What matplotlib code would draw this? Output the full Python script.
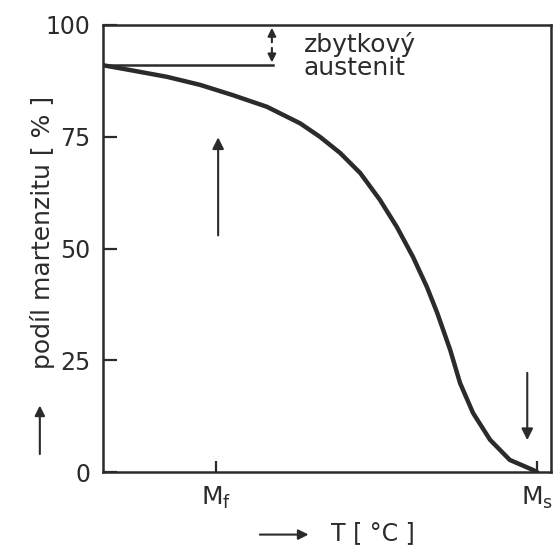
import numpy as np
import matplotlib.pyplot as plt

# podíl martenzitu v závislosti na teplotě
T = [0.0, 0.067, 0.143, 0.217, 0.290, 0.366, 0.440, 0.484, 0.529, 0.574,
     0.618, 0.656, 0.692, 0.723, 0.746, 0.775, 0.797, 0.826, 0.864, 0.908,
     0.960, 0.969]
podil = [91.0, 89.8, 88.4, 86.6, 84.3, 81.7, 78.0, 75.0, 71.4, 66.9,
         60.9, 54.8, 48.1, 41.4, 35.6, 27.3, 19.9, 13.2, 7.2, 2.7,
         0.45, 0.0]

yticks = [0, 25, 50, 75, 100]
xticks = [0.252, 0.969]
xticklabels = ["M$_\\mathrm{f}$", "M$_\\mathrm{s}$"]
zbytek = 91.0

c = "#2b2b2b"
plt.rcParams['font.family'] = 'DejaVu Sans'

fig = plt.figure(figsize=(5.56, 5.46), dpi=100)
ax = fig.add_axes([103/556, 1-472/546, 448/556, 447/546])

ax.plot(T, podil, color=c, lw=3.2, solid_capstyle='round', solid_joinstyle='round')
ax.set_xlim(0, 1)
ax.set_ylim(0, 100)

for s in ax.spines.values():
    s.set_linewidth(1.8)
    s.set_color(c)

ax.set_yticks(yticks)
ax.set_yticklabels([str(v) for v in yticks], fontsize=17, color=c)
ax.set_xticks(xticks)
ax.set_xticklabels(xticklabels, fontsize=18, color=c)
ax.tick_params(axis='y', direction='in', length=10, width=1.6, pad=9, colors=c)
ax.tick_params(axis='x', direction='in', length=8, width=1.6, pad=9, colors=c)

# zbytkový austenit
ax.plot([0, 0.379], [zbytek, zbytek], color=c, lw=1.8)
ax.annotate("", xy=(0.377, 100), xytext=(0.377, 95.5),
            arrowprops=dict(arrowstyle='-|>', color=c, lw=1.5, mutation_scale=12))
ax.annotate("", xy=(0.377, zbytek), xytext=(0.377, 95.5),
            arrowprops=dict(arrowstyle='-|>', color=c, lw=1.5, mutation_scale=12))
ax.text(0.448, 98.5, "zbytkový\naustenit", fontsize=18, color=c,
        va='top', ha='left', linespacing=0.95)

# šipky
ax.annotate("", xy=(0.257, 75.5), xytext=(0.257, 52.3),
            arrowprops=dict(arrowstyle='-|>', color=c, lw=1.5, mutation_scale=17))
ax.annotate("", xy=(0.947, 6.5), xytext=(0.947, 22.8),
            arrowprops=dict(arrowstyle='-|>', color=c, lw=1.5, mutation_scale=17))

# popisky os
ax.text(-0.135, 0.535, "podíl martenzitu [ % ]", transform=ax.transAxes,
        rotation=90, fontsize=18, color=c, ha='center', va='center')
ax.annotate("", xy=(-0.141, 0.155), xytext=(-0.141, 0.034), xycoords='axes fraction',
            arrowprops=dict(arrowstyle='-|>', color=c, lw=1.5, mutation_scale=15),
            annotation_clip=False)
ax.text(0.51, -0.137, "T [ °C ]", transform=ax.transAxes, fontsize=17,
        color=c, ha='left', va='center')
ax.annotate("", xy=(0.465, -0.14), xytext=(0.344, -0.14), xycoords='axes fraction',
            arrowprops=dict(arrowstyle='-|>', color=c, lw=1.5, mutation_scale=15),
            annotation_clip=False)

fig.savefig("out.png", dpi=100)
